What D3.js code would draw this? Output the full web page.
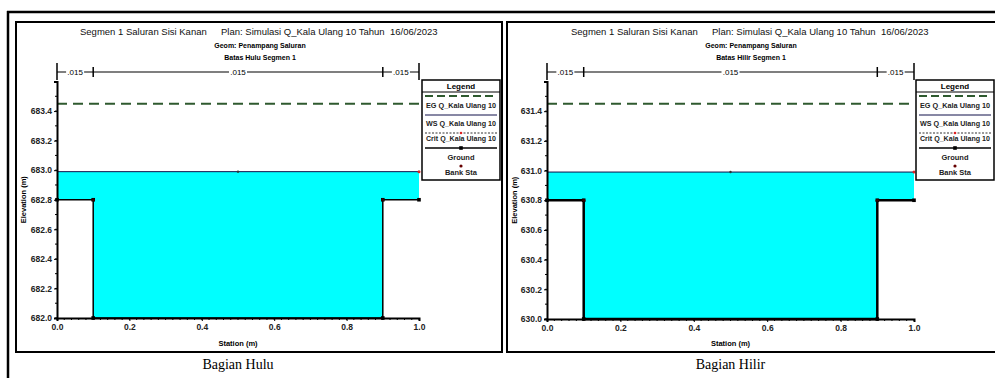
<!DOCTYPE html>
<html>
<head>
<meta charset="utf-8">
<script src="https://cdn.jsdelivr.net/npm/d3@7"></script>
<style>
  body { margin: 0; background: #fff; }
  svg { display: block; font-family: "Liberation Sans", Arial, sans-serif; }
</style>
</head>
<body>
<div id="chart"></div>
<script>
// ---- data ----
const stations = [0.0, 0.1, 0.1, 0.9, 0.9, 1.0];
const groundHulu = [682.8, 682.8, 682.0, 682.0, 682.8, 682.8];
const groundHilir = [630.8, 630.8, 630.0, 630.0, 630.8, 630.8];
const bankSta = [0.1, 0.9];
const wsHulu = 682.99;
const egHulu = 683.45;
const wsHilir = 630.99;
const egHilir = 631.45;
const nBreaks = [0.0, 0.1, 0.9, 1.0];
const nValues = [".015", ".015", ".015"];
const xTicks = [0.0, 0.2, 0.4, 0.6, 0.8, 1.0];
const yTicksHulu = [682.0, 682.2, 682.4, 682.6, 682.8, 683.0, 683.2, 683.4];
const yTicksHilir = [630.0, 630.2, 630.4, 630.6, 630.8, 631.0, 631.2, 631.4];
const legendLabels = ["EG Q_Kala Ulang 10", "WS Q_Kala Ulang 10", "Crit Q_Kala Ulang 10", "Ground", "Bank Sta"];
const titleParts = ["Segmen 1 Saluran Sisi Kanan", "Plan: Simulasi Q_Kala Ulang 10 Tahun", "16/06/2023"];

const W = 995, H = 378;
const svg = d3.select("#chart").append("svg").attr("width", W).attr("height", H);

// outer frame (top line + left edge of the pasted figure)
svg.append("line").attr("x1", 7).attr("x2", W).attr("y1", 12).attr("y2", 12)
  .attr("stroke", "#000").attr("stroke-width", 2.5);
svg.append("line").attr("x1", 8).attr("x2", 8).attr("y1", 11).attr("y2", H)
  .attr("stroke", "#000").attr("stroke-width", 2.5);

function drawPanel(p) {
  const g = svg.append("g");

  // inner box
  g.append("rect").attr("x", p.box[0]).attr("y", 22)
    .attr("width", p.box[1] - p.box[0]).attr("height", 352 - 22)
    .attr("fill", "none").attr("stroke", "#000").attr("stroke-width", 2);

  const x = d3.scaleLinear().domain([0, 1]).range(p.xr);
  const y = d3.scaleLinear().domain(p.yd).range(p.yr);
  const pts = stations.map((s, i) => ({ s, z: p.ground[i] }));

  // titles
  const tx = p.box[0];
  const titleX = [tx + 64, tx + 205, tx + 374];
  titleParts.forEach((t, i) => {
    g.append("text").attr("x", titleX[i]).attr("y", 35).attr("font-size", 9.5)
      .attr("fill", "#111").text(t);
  });
  g.append("text").attr("x", tx + 244).attr("y", 48).attr("font-size", 7)
    .attr("font-weight", "bold").attr("text-anchor", "middle").text("Geom: Penampang Saluran");
  g.append("text").attr("x", tx + 244).attr("y", 60).attr("font-size", 7)
    .attr("font-weight", "bold").attr("text-anchor", "middle").text(p.sub);

  // manning n bar
  const ny = 72;
  g.append("line").attr("x1", x(0)).attr("x2", x(1)).attr("y1", ny).attr("y2", ny)
    .attr("stroke", "#000").attr("stroke-width", 1.2);
  g.selectAll(".nb").data(nBreaks).enter().append("line")
    .attr("x1", d => x(d)).attr("x2", d => x(d))
    .attr("y1", (d, i) => (i === 0 || i === nBreaks.length - 1) ? 63 : 67)
    .attr("y2", (d, i) => (i === 0 || i === nBreaks.length - 1) ? 80 : 77)
    .attr("stroke", "#000").attr("stroke-width", 1.5);
  nValues.forEach((v, i) => {
    const cx = x((nBreaks[i] + nBreaks[i + 1]) / 2);
    g.append("rect").attr("x", cx - 9).attr("y", ny - 5).attr("width", 18).attr("height", 10).attr("fill", "#fff");
    g.append("text").attr("x", cx).attr("y", ny + 3).attr("font-size", 8)
      .attr("text-anchor", "middle").text(v);
  });

  // water fill
  const area = d3.area().x(d => x(d.s)).y0(d => y(d.z)).y1(y(p.ws));
  g.append("path").datum(pts).attr("d", area).attr("fill", "#00ffff");
  g.append("line").attr("x1", x(0)).attr("x2", x(1)).attr("y1", y(p.ws)).attr("y2", y(p.ws))
    .attr("stroke", "#10104a").attr("stroke-width", 1);
  g.append("circle").attr("cx", x(0.5)).attr("cy", y(p.ws)).attr("r", 1.2).attr("fill", "#333");
  g.append("circle").attr("cx", x(1)).attr("cy", y(p.ws)).attr("r", 1.5).attr("fill", "#d22");

  // energy grade line
  g.append("line").attr("x1", x(0)).attr("x2", x(1)).attr("y1", y(p.eg)).attr("y2", y(p.eg))
    .attr("stroke", "#2f5a2f").attr("stroke-width", 2).attr("stroke-dasharray", "10,6");

  // ground
  g.append("path").datum(pts)
    .attr("d", d3.line().x(d => x(d.s)).y(d => y(d.z)))
    .attr("fill", "none").attr("stroke", "#000").attr("stroke-width", p.gw);
  g.selectAll(".gp").data(pts).enter().append("rect")
    .attr("x", d => x(d.s) - 1.8).attr("y", d => y(d.z) - 1.8)
    .attr("width", 3.6).attr("height", 3.6).attr("fill", "#000");
  g.selectAll(".bk").data(bankSta).enter().append("circle")
    .attr("cx", d => x(d)).attr("cy", y(p.ground[0])).attr("r", 1.6).attr("fill", "#300");

  // axes
  const xAxis = d3.axisBottom(x).tickValues(xTicks).tickFormat(d3.format(".1f")).tickSize(3).tickPadding(3);
  const xa = g.append("g").attr("transform", `translate(0,${p.yr[0]})`).call(xAxis);
  const xMinor = d3.range(0, 1.0001, 0.02);
  xa.selectAll(".mn").data(xMinor).enter().append("line")
    .attr("x1", d => x(d)).attr("x2", d => x(d)).attr("y1", 0).attr("y2", 2)
    .attr("stroke", "#000");
  const yAxis = d3.axisLeft(y).tickValues(p.yTicks).tickFormat(d3.format(".1f")).tickSize(3).tickPadding(2);
  const ya = g.append("g").attr("transform", `translate(${p.xr[0]},0)`).call(yAxis);
  const yMinor = d3.range(p.yd[0], p.yd[1] + 0.001, 0.1);
  ya.selectAll(".mn").data(yMinor).enter().append("line")
    .attr("x1", -2).attr("x2", 0).attr("y1", d => y(d)).attr("y2", d => y(d)).attr("stroke", "#000");
  [xa, ya].forEach(a => {
    a.select(".domain").attr("stroke-width", 2);
    a.selectAll("text").attr("font-size", 8.5).attr("font-weight", "bold")
      .attr("font-family", "Liberation Sans, Arial, sans-serif").attr("fill", "#222");
  });

  // axis titles
  g.append("text").attr("x", (p.xr[0] + p.xr[1]) / 2).attr("y", 346).attr("font-size", 7.5)
    .attr("font-weight", "bold").attr("text-anchor", "middle").text("Station (m)");
  g.append("text").attr("transform", `translate(${p.box[0] + 10},${(p.yr[0] + p.yr[1]) / 2}) rotate(-90)`)
    .attr("font-size", 7.5).attr("font-weight", "bold").attr("text-anchor", "middle").text("Elevation (m)");

  // caption under the panel
  g.append("text").attr("x", (p.xr[0] + p.xr[1]) / 2).attr("y", 369).attr("font-size", 14)
    .attr("font-family", "Liberation Serif, serif").attr("text-anchor", "middle").text(p.caption);

  // legend
  const lx = p.leg, lw = 78, ly = 80;
  const lg = g.append("g");
  lg.append("rect").attr("x", lx).attr("y", ly).attr("width", lw).attr("height", 100)
    .attr("fill", "#fff").attr("stroke", "#000").attr("stroke-width", 1.5);
  lg.append("text").attr("x", lx + lw / 2).attr("y", ly + 9).attr("font-size", 8)
    .attr("font-weight", "bold").attr("text-anchor", "middle").text("Legend");
  lg.append("line").attr("x1", lx).attr("x2", lx + lw).attr("y1", ly + 12).attr("y2", ly + 12)
    .attr("stroke", "#000").attr("stroke-width", 1);
  // symbol rows
  lg.append("line").attr("x1", lx + 3).attr("x2", lx + lw - 3).attr("y1", ly + 16).attr("y2", ly + 16)
    .attr("stroke", "#2f5a2f").attr("stroke-width", 2).attr("stroke-dasharray", "8,4");
  lg.append("line").attr("x1", lx + 3).attr("x2", lx + lw - 3).attr("y1", ly + 35).attr("y2", ly + 35)
    .attr("stroke", "#10104a").attr("stroke-width", 1);
  lg.append("line").attr("x1", lx + 3).attr("x2", lx + lw - 3).attr("y1", ly + 53).attr("y2", ly + 53)
    .attr("stroke", "#333").attr("stroke-width", 1).attr("stroke-dasharray", "2,1.5");
  lg.append("circle").attr("cx", lx + lw / 2).attr("cy", ly + 53).attr("r", 1.3).attr("fill", "#d22");
  lg.append("line").attr("x1", lx + 3).attr("x2", lx + lw - 3).attr("y1", ly + 68).attr("y2", ly + 68)
    .attr("stroke", "#000").attr("stroke-width", 1.5);
  lg.append("rect").attr("x", lx + lw / 2 - 1.8).attr("y", ly + 66.2).attr("width", 3.6).attr("height", 3.6).attr("fill", "#000");
  lg.append("circle").attr("cx", lx + lw / 2).attr("cy", ly + 86).attr("r", 1.6).attr("fill", "#600");
  const rowY = [ly + 28, ly + 46, ly + 61, ly + 80, ly + 95];
  legendLabels.forEach((t, i) => {
    const txt = lg.append("text").attr("x", i < 3 ? lx + 4 : lx + lw / 2).attr("y", rowY[i])
      .attr("font-size", 7.5).attr("font-weight", "bold").attr("fill", "#222")
      .attr("text-anchor", i < 3 ? "start" : "middle").text(t);
    if (i < 3) txt.attr("textLength", lw - 8).attr("lengthAdjust", "spacingAndGlyphs");
  });
}

drawPanel({
  box: [16, 502], xr: [57, 419], yd: [682.0, 683.6], yr: [318, 81.5],
  ground: groundHulu, ws: wsHulu, eg: egHulu, yTicks: yTicksHulu,
  sub: "Batas Hulu Segmen 1", caption: "Bagian Hulu", leg: 422, gw: 1.5
});
drawPanel({
  box: [507, 999], xr: [547, 914], yd: [630.0, 631.6], yr: [319, 81.5],
  ground: groundHilir, ws: wsHilir, eg: egHilir, yTicks: yTicksHilir,
  sub: "Batas Hilir Segmen 1", caption: "Bagian Hilir", leg: 916, gw: 2.5
});
</script>
</body>
</html>
